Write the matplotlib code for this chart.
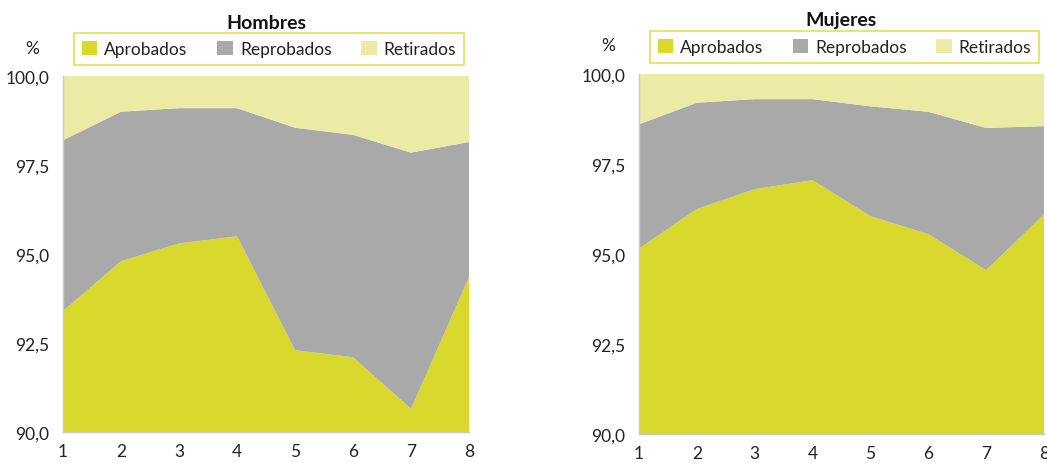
import matplotlib
matplotlib.use("Agg")
import matplotlib.pyplot as plt
from matplotlib.patches import Patch
from matplotlib.ticker import FuncFormatter

plt.rcParams['font.family'] = ['Lato', 'DejaVu Sans']

x = [1, 2, 3, 4, 5, 6, 7, 8]
series_names = ["Aprobados", "Reprobados", "Retirados"]

hombres_aprobados = [93.4, 94.8, 95.3, 95.5, 92.3, 92.1, 90.65, 94.35]
hombres_reprobados = [4.8, 4.2, 3.8, 3.6, 6.25, 6.25, 7.2, 3.8]
hombres_retirados = [1.8, 1.0, 0.9, 0.9, 1.45, 1.65, 2.15, 1.85]

mujeres_aprobados = [95.15, 96.25, 96.8, 97.05, 96.05, 95.55, 94.55, 96.1]
mujeres_reprobados = [3.45, 2.95, 2.5, 2.25, 3.05, 3.4, 3.95, 2.45]
mujeres_retirados = [1.4, 0.8, 0.7, 0.7, 0.9, 1.05, 1.5, 1.45]

yticks = [90.0, 92.5, 95.0, 97.5, 100.0]

colors = ["#D9D82C", "#A9A9A9", "#EBEBA6"]
text_color = "#222222"

fig = plt.figure(figsize=(10.47, 4.64), dpi=100)
ax1 = fig.add_axes([0.0602, 0.0668, 0.3878, 0.767])
ax2 = fig.add_axes([0.6103, 0.0625, 0.3868, 0.776])

fmt = FuncFormatter(lambda v, p: f"{v:.1f}".replace(".", ","))

for ax, title, data in [
    (ax1, "Hombres", (hombres_aprobados, hombres_reprobados, hombres_retirados)),
    (ax2, "Mujeres", (mujeres_aprobados, mujeres_reprobados, mujeres_retirados)),
]:
    ax.stackplot(x, *data, colors=colors, linewidth=0)
    ax.set_xlim(1, 8)
    ax.set_ylim(90, 100)
    ax.set_yticks(yticks)
    ax.yaxis.set_major_formatter(fmt)
    ax.set_xticks(x)
    ax.tick_params(length=0, labelsize=12.5, colors=text_color)
    ax.tick_params(axis="y", pad=10)
    ax.tick_params(axis="x", pad=8)
    for s in ["top", "right"]:
        ax.spines[s].set_visible(False)
    for s in ["left", "bottom"]:
        ax.spines[s].set_color("#C8C8C8")
        ax.spines[s].set_linewidth(1.0)
    handles = [Patch(facecolor=c, edgecolor="none") for c in colors]
    leg = ax.legend(handles, series_names, loc="lower left", ncol=3, mode="expand",
                    bbox_to_anchor=(0.027, 1.031, 0.961, 0.093), borderaxespad=0,
                    frameon=True, fancybox=False, fontsize=12.5, handlelength=0.9,
                    handleheight=0.9, handletextpad=0.4, borderpad=0.45)
    leg.get_frame().set_edgecolor("#D9D82C")
    leg.get_frame().set_linewidth(1.2)
    for t in leg.get_texts():
        t.set_color(text_color)
    ax.set_title(title, fontsize=14, fontweight="bold", color="#111111", pad=35)
    ax.text(-0.075, 1.08, "%", transform=ax.transAxes, fontsize=12.5,
            color=text_color, ha="center", va="center")

fig.savefig("out.png", dpi=100)
